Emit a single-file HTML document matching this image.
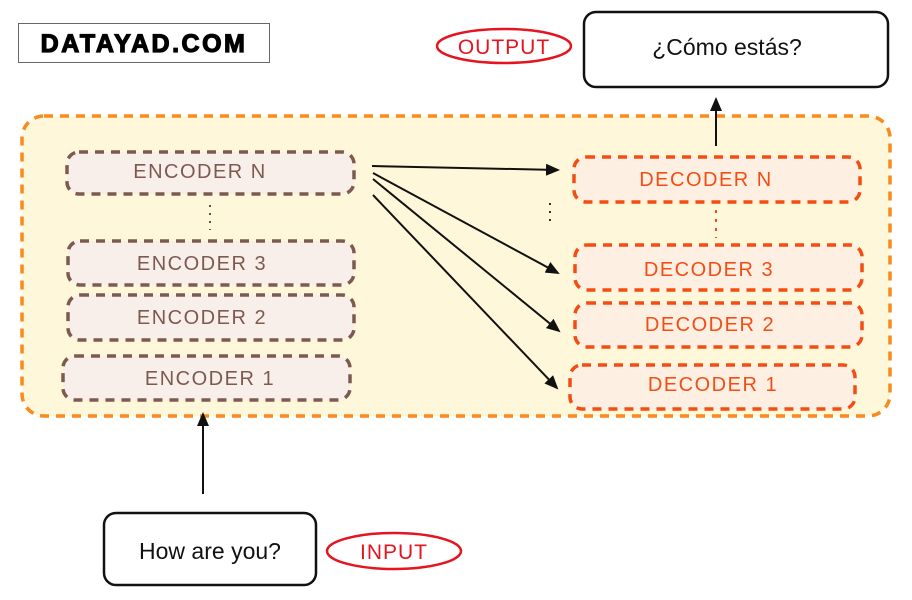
<!DOCTYPE html>
<html><head><meta charset="utf-8"><style>
html,body{margin:0;padding:0;background:#fff;width:912px;height:600px;overflow:hidden}
svg text{font-family:"Liberation Sans",sans-serif}
</style></head><body>
<svg width="912" height="600" viewBox="0 0 912 600" xmlns="http://www.w3.org/2000/svg">
<defs>
<marker id="ah" markerWidth="14" markerHeight="12" refX="12" refY="6" orient="auto" markerUnits="userSpaceOnUse">
<path d="M0,0 L14,6 L0,12 z" fill="#111"/></marker>
</defs>
<rect x="18.5" y="23.5" width="251" height="39" fill="#fff" stroke="#666" stroke-width="1"/>
<text x="144" y="52" text-anchor="middle" font-size="25" font-weight="bold" letter-spacing="2.5" fill="#000" stroke="#000" stroke-width="1.2">DATAYAD.COM</text>

<rect x="22" y="116" width="868" height="300" rx="22" fill="#fff7da" stroke="#f98a1c" stroke-width="3.5" stroke-dasharray="9 7"/>

<g fill="#f8efea" stroke="#7d5a50" stroke-width="3.5" stroke-dasharray="9 7">
<rect x="67" y="152" width="287" height="42" rx="12"/>
<rect x="68" y="241" width="286" height="44" rx="12"/>
<rect x="68" y="295" width="286" height="45" rx="12"/>
<rect x="63" y="356" width="287" height="44" rx="12"/>
</g>
<g fill="#7d5a50" font-size="20" text-anchor="middle" letter-spacing="1.5">
<text x="200" y="178">ENCODER N</text>
<text x="202" y="270">ENCODER 3</text>
<text x="202" y="324">ENCODER 2</text>
<text x="210" y="385">ENCODER 1</text>
</g>
<line x1="210" y1="205" x2="210" y2="230" stroke="#555" stroke-width="2" stroke-dasharray="2 6"/>

<g fill="#fdf0e3" stroke="#f44d14" stroke-width="3.5" stroke-dasharray="9 7">
<rect x="574" y="157" width="286" height="45" rx="12"/>
<rect x="575" y="245" width="287" height="45" rx="12"/>
<rect x="575" y="303" width="287" height="44" rx="12"/>
<rect x="570" y="365" width="285" height="44" rx="12"/>
</g>
<g fill="#f44d14" font-size="20" text-anchor="middle" letter-spacing="1.5">
<text x="706" y="186">DECODER N</text>
<text x="709" y="276">DECODER 3</text>
<text x="710" y="331">DECODER 2</text>
<text x="713" y="391">DECODER 1</text>
</g>
<line x1="716" y1="210" x2="716" y2="238" stroke="#f44d14" stroke-width="2" stroke-dasharray="3 6"/>
<line x1="550" y1="203" x2="550" y2="225" stroke="#333" stroke-width="2" stroke-dasharray="2 6"/>

<g stroke="#111" stroke-width="2" fill="none" marker-end="url(#ah)">
<line x1="372" y1="166" x2="558" y2="170"/>
<line x1="373" y1="173" x2="558" y2="273"/>
<line x1="373" y1="179" x2="559" y2="331"/>
<line x1="373" y1="195" x2="557" y2="388"/>
<line x1="716" y1="146" x2="716" y2="99"/>
<line x1="203" y1="494" x2="203" y2="414"/>
</g>

<rect x="584" y="12" width="304" height="75" rx="12" fill="#fff" stroke="#111" stroke-width="2.5"/>
<text x="727" y="55" text-anchor="middle" font-size="23" fill="#111">¿Cómo estás?</text>
<ellipse cx="504" cy="46" rx="67" ry="17" fill="none" stroke="#e5141e" stroke-width="2.5"/>
<text x="504" y="54" text-anchor="middle" font-size="21" fill="#e5141e" letter-spacing="1">OUTPUT</text>

<rect x="104" y="513" width="212" height="72" rx="12" fill="#fff" stroke="#111" stroke-width="2.5"/>
<text x="210" y="559" text-anchor="middle" font-size="23" fill="#111">How are you?</text>
<ellipse cx="394" cy="551" rx="67" ry="18" fill="none" stroke="#e5141e" stroke-width="2.5"/>
<text x="394" y="559" text-anchor="middle" font-size="21" fill="#e5141e" letter-spacing="1">INPUT</text>
</svg>
</body></html>
